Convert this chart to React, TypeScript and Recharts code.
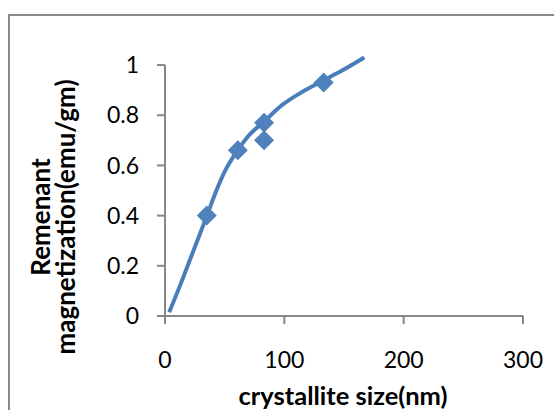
import {
  ComposedChart,
  Line,
  Scatter,
  XAxis,
  YAxis,
  ReferenceLine,
  Label,
} from "recharts";

// measured points (diamonds)
const sizes = [35, 61, 83, 83, 133];
const remanence = [0.4, 0.66, 0.77, 0.7, 0.93];

// fitted curve
const curveSizes = [3.5, 12.5, 21, 35, 42, 50, 61, 70, 83, 98, 115, 132, 148, 167];
const curveRemanence = [
  0.015, 0.12, 0.225, 0.398, 0.487, 0.575, 0.661, 0.718, 0.775, 0.84, 0.893,
  0.937, 0.977, 1.03,
];

const xTicks = [0, 100, 200, 300];
const yTicks = [0, 0.2, 0.4, 0.6, 0.8, 1];

const points = sizes.map((x, i) => ({ x, y: remanence[i] }));
const curve = curveSizes.map((x, i) => ({ x, y: curveRemanence[i] }));

const BLUE = "#4a7ebb";
const AXIS = "#878787";
const FONT = "Lato, 'Open Sans', sans-serif";

const Diamond = (props: any) => {
  const { cx, cy } = props;
  const r = 10;
  return (
    <polygon
      points={`${cx},${cy - r} ${cx + r},${cy} ${cx},${cy + r} ${cx - r},${cy}`}
      fill="#4f81bd"
    />
  );
};

export default function App() {
  return (
    <div style={{ position: "absolute", left: 0, top: 0, width: 554, height: 410, background: "#fff" }}>
      <div
        style={{
          position: "absolute",
          left: 8,
          top: 14,
          width: 560,
          height: 410,
          borderTop: "2px solid #8a8a8a",
          borderLeft: "2px solid #8a8a8a",
        }}
      />
      <div style={{ position: "absolute", left: 0, top: 0 }}>
        <ComposedChart
          width={554}
          height={410}
          margin={{ top: 55, right: 31, bottom: 54, left: 105 }}
          style={{ fontFamily: FONT }}
        >
          <XAxis
            dataKey="x"
            type="number"
            domain={[0, 300]}
            ticks={xTicks}
            height={40}
            stroke={AXIS}
            strokeWidth={2}
            tickSize={8}
            tickMargin={28}
            tick={{ fill: "#000", fontSize: 23 }}
          >
            <Label
              content={() => (
                <text x={343} y={405} textAnchor="middle" fontSize={25.5} fontWeight="bold" fill="#000" fontFamily={FONT}>
                  crystallite size(nm)
                </text>
              )}
            />
          </XAxis>
          <YAxis
            dataKey="y"
            type="number"
            domain={[0, 1.04]}
            ticks={yTicks}
            width={60}
            axisLine={false}
            stroke={AXIS}
            strokeWidth={2}
            tickSize={8}
            tickMargin={18}
            tick={{ fill: "#000", fontSize: 23 }}
          >
            <Label
              content={() => (
                <g fontSize={26} fontWeight="bold" fill="#000" fontFamily={FONT}>
                  <text transform="translate(50,217) rotate(-90)" textAnchor="middle">
                    Remenant
                  </text>
                  <text transform="translate(75,217) rotate(-90)" textAnchor="middle">
                    magnetization(emu/gm)
                  </text>
                </g>
              )}
            />
          </YAxis>
          <ReferenceLine
            segment={[
              { x: 0, y: 0 },
              { x: 0, y: 1 },
            ]}
            stroke={AXIS}
            strokeWidth={2}
          />
          <Line
            data={curve}
            dataKey="y"
            type="monotone"
            stroke={BLUE}
            strokeWidth={4}
            dot={false}
            activeDot={false}
            isAnimationActive={false}
          />
          <Scatter data={points} dataKey="y" shape={Diamond} isAnimationActive={false} />
        </ComposedChart>
      </div>
    </div>
  );
}
